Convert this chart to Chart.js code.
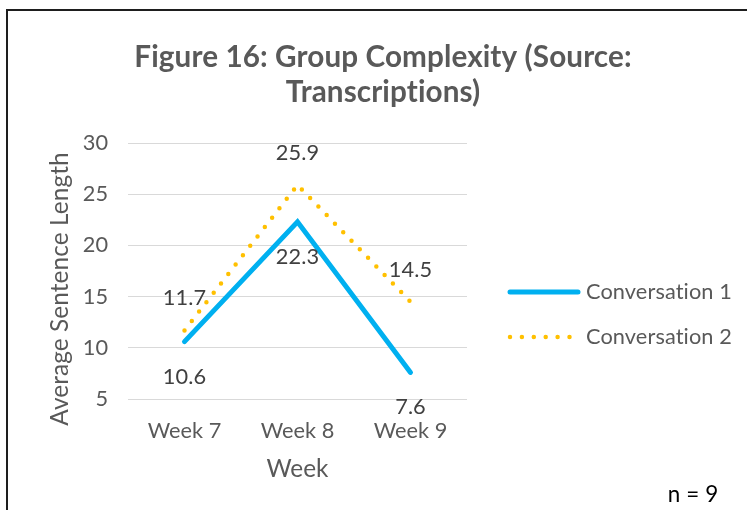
<!DOCTYPE html>
<html>
<head>
<meta charset="utf-8">
<script src="https://cdn.jsdelivr.net/npm/chart.js@4/dist/chart.umd.min.js"></script>
<style>
  html, body { margin: 0; padding: 0; background: #fff; overflow: hidden; }
  #wrap { position: relative; width: 747px; height: 510px; }
  #frame { position: absolute; left: 6px; top: 9px; width: 900px; height: 700px;
           border-left: 2px solid #1e1e1e; border-top: 2px solid #1e1e1e; pointer-events: none; }
  canvas { position: absolute; left: 0; top: 0; }
</style>
</head>
<body>
<div id="wrap">
  <canvas id="c" width="747" height="510"></canvas>
  <div id="frame"></div>
</div>
<script>
// ---- data ----
const titleLines = ['Figure 16: Group Complexity (Source:', 'Transcriptions)'];
const categories = ['Week 7', 'Week 8', 'Week 9'];
const seriesNames = ['Conversation 1', 'Conversation 2'];
const conversation1 = [10.6, 22.3, 7.6];
const conversation2 = [11.7, 25.9, 14.5];
const yMin = 5, yMax = 30, yStep = 5;
const xAxisTitle = 'Week';
const yAxisTitle = 'Average Sentence Length';
const footnote = 'n = 9';

// ---- font sizing ----
const FAMILY = 'Lato, "Open Sans", sans-serif';
function fitSize(text, width, weight) {
  const c = document.createElement('canvas').getContext('2d');
  c.font = weight + ' 100px ' + FAMILY;
  return 100 * width / c.measureText(text).width;
}
const titleSize = fitSize(titleLines[0], 494, 'bold');
const S = fitSize(seriesNames[0], 145, 'normal');
const axisTitleSize = S * 1.12;
const GRAY = '#595959';

const decor = {
  id: 'decor',
  afterDraw(chart) {
    const ctx = chart.ctx;
    ctx.save();
    if ('letterSpacing' in ctx) ctx.letterSpacing = '0.1px';
    // title
    ctx.fillStyle = GRAY;
    ctx.textAlign = 'center';
    ctx.textBaseline = 'middle';
    ctx.font = 'bold ' + titleSize + 'px ' + FAMILY;
    titleLines.forEach((t, i) => ctx.fillText(t, 383, 57 + i * 35));
    // y axis title
    ctx.save();
    ctx.translate(60, 289);
    ctx.rotate(-Math.PI / 2);
    ctx.font = axisTitleSize + 'px ' + FAMILY;
    ctx.fillText(yAxisTitle, 0, 0);
    ctx.restore();
    // data labels
    const offsets = [35, -32];
    ctx.fillStyle = '#404040';
    ctx.font = S + 'px ' + FAMILY;
    chart.data.datasets.forEach((ds, di) => {
      const meta = chart.getDatasetMeta(di);
      meta.data.forEach((pt, i) => {
        ctx.fillText(ds.data[i].toFixed(1), pt.x, pt.y + offsets[di]);
      });
    });
    // legend
    const rows = [292, 337];
    chart.data.datasets.forEach((ds, di) => {
      const y = rows[di];
      ctx.save();
      ctx.strokeStyle = ds.borderColor;
      ctx.lineWidth = ds.borderWidth;
      ctx.lineCap = ds.borderCapStyle || 'butt';
      ctx.setLineDash(ds.borderDash || []);
      ctx.beginPath();
      ctx.moveTo(510, y);
      ctx.lineTo(di === 0 ? 578 : 571, y);
      ctx.stroke();
      ctx.restore();
      ctx.fillStyle = GRAY;
      ctx.textAlign = 'left';
      ctx.font = S + 'px ' + FAMILY;
      ctx.fillText(ds.label, 586, y);
    });
    // footnote
    ctx.fillStyle = '#000';
    ctx.textAlign = 'center';
    ctx.font = (S * 1.03) + 'px ' + FAMILY;
    ctx.fillText(footnote, 693, 495);
    ctx.restore();
  }
};

new Chart(document.getElementById('c'), {
  type: 'line',
  data: {
    labels: categories,
    datasets: [
      { label: seriesNames[0], data: conversation1, borderColor: '#00B0F0', backgroundColor: '#00B0F0',
        borderWidth: 5, borderCapStyle: 'round', borderJoinStyle: 'miter', pointRadius: 0, fill: false, tension: 0 },
      { label: seriesNames[1], data: conversation2, borderColor: '#FFC000', backgroundColor: '#FFC000',
        borderWidth: 4.5, borderDash: [0, 11.9], borderCapStyle: 'round', pointRadius: 0, fill: false, tension: 0 }
    ]
  },
  options: {
    responsive: false,
    animation: false,
    layout: { padding: { top: 143, right: 280, bottom: 0, left: 0 } },
    plugins: { legend: { display: false }, title: { display: false }, tooltip: { enabled: false } },
    scales: {
      x: {
        offset: true,
        grid: { display: false },
        border: { display: false },
        ticks: { color: GRAY, font: { family: FAMILY, size: S }, padding: 24 - 0.6 * S, maxRotation: 0 },
        title: { display: true, text: xAxisTitle, color: GRAY, font: { family: FAMILY, size: axisTitleSize },
                 padding: { top: 0, bottom: 510 - 469 - 0.6 * axisTitleSize } },
        afterFit: s => { s.height = 111; }
      },
      y: {
        min: yMin, max: yMax,
        grid: { color: '#D9D9D9', lineWidth: 1, drawTicks: false },
        border: { display: false },
        ticks: { stepSize: yStep, color: GRAY, font: { family: FAMILY, size: S }, padding: 20 },
        afterFit: s => { s.width = 128; }
      }
    }
  },
  plugins: [decor]
});
</script>
</body>
</html>
